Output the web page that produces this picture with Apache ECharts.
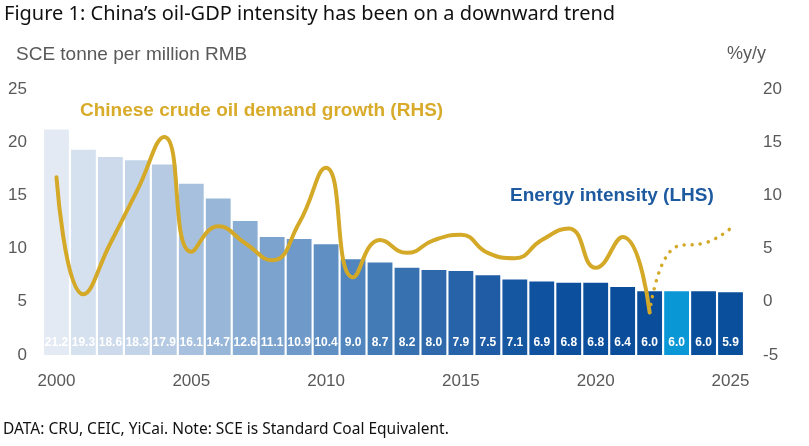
<!DOCTYPE html>
<html>
<head>
<meta charset="UTF-8">
<script src="https://cdn.jsdelivr.net/npm/echarts@6/dist/echarts.min.js"></script>
<style>
  html, body { margin: 0; padding: 0; background: #fff; }
  #chart { width: 809px; height: 446px; }
</style>
</head>
<body>
<div id="chart"></div>
<script>
// data
var years = ['2000','2001','2002','2003','2004','2005','2006','2007','2008','2009',
             '2010','2011','2012','2013','2014','2015','2016','2017','2018','2019',
             '2020','2021','2022','2023','2024','2025'];
var intensity = [21.2, 19.3, 18.6, 18.3, 17.9, 16.1, 14.7, 12.6, 11.1, 10.9,
                 10.4, 9.0, 8.7, 8.2, 8.0, 7.9, 7.5, 7.1, 6.9, 6.8,
                 6.8, 6.4, 6.0, 6.0, 6.0, 5.9];
// crude oil demand growth, actual (to 2022) and forecast (2022 on)
var oilActual = [11.7, 0.7, 5.5, 10.5, 15.5, 4.7, 7.1, 5.5, 3.9, 7.4,
                 12.6, 2.3, 5.8, 4.6, 5.8, 6.3, 4.6, 4.1, 5.8, 6.9,
                 3.2, 6.1, -1.0, null, null, null];
var oilForecast = [null, null, null, null, null, null, null, null, null, null,
                   null, null, null, null, null, null, null, null, null, null,
                   null, null, -1.0, 5.2, 5.5, 6.9];
var leftTicks = [0, 25, 5];
var rightTicks = [-5, 20, 5];

// bar shades, light to dark, 2023 highlighted
var barColors = ['#e3eaf4','#d6e1ef','#cddaeb','#c3d4e8','#b6cbe3','#a6c0dd','#98b6d8',
                 '#8aadd3','#7ba3cd','#6e99c8','#6090c3','#5086bd','#437bb6','#3871b0',
                 '#2f69ab','#2763a8','#1f5ca5','#1657a2','#0f529f','#0c509d','#0b4f9c',
                 '#0a4e9b','#0a4d9b','#0a97d6','#0a4f9c','#0a4f9c'];

var chart = echarts.init(document.getElementById('chart'));
var gray = '#595959';

var option = {
  animation: false,
  textStyle: { fontFamily: 'Liberation Sans, Arial, sans-serif' },
  grid: { left: 43, right: 65, top: 89, bottom: 91, outerBoundsMode: 'none' },
  graphic: [
    { type: 'text', left: 4, top: 4,
      style: { text: 'Figure 1: China\u2019s oil-GDP intensity has been on a downward trend',
               fontFamily: 'Noto Sans', fontSize: 20, fill: '#111' } },
    { type: 'text', left: 16, top: 45,
      style: { text: 'SCE tonne per million RMB', fontSize: 19, fill: gray,
               fontFamily: 'Liberation Sans' } },
    { type: 'text', left: 727, top: 45,
      style: { text: '%y/y', fontSize: 18, fill: gray, fontFamily: 'Liberation Sans' } },
    { type: 'text', left: 80, top: 101,
      style: { text: 'Chinese crude oil demand growth (RHS)', fontSize: 19, fontWeight: 'bold',
               fill: '#d8ab2b', fontFamily: 'Liberation Sans' } },
    { type: 'text', left: 510, top: 186,
      style: { text: 'Energy intensity (LHS)', fontSize: 19, fontWeight: 'bold',
               fill: '#1d5a9f', fontFamily: 'Liberation Sans' } },
    { type: 'text', left: 3, top: 422,
      style: { text: 'DATA: CRU, CEIC, YiCai. Note: SCE is Standard Coal Equivalent.',
               fontFamily: 'Noto Sans', fontSize: 15.5, fill: '#111' } }
  ],
  xAxis: {
    type: 'category',
    data: years,
    axisLine: { show: false },
    axisTick: { show: false },
    axisLabel: { interval: 4, color: gray, fontSize: 17, margin: 18 }
  },
  yAxis: [
    { type: 'value', min: leftTicks[0], max: leftTicks[1], interval: leftTicks[2],
      splitLine: { show: false }, axisLine: { show: false }, axisTick: { show: false },
      axisLabel: { color: gray, fontSize: 17, margin: 16 } },
    { type: 'value', min: rightTicks[0], max: rightTicks[1], interval: rightTicks[2],
      position: 'right',
      splitLine: { show: false }, axisLine: { show: false }, axisTick: { show: false },
      axisLabel: { color: gray, fontSize: 17, margin: 19 } }
  ],
  series: [
    { name: 'Energy intensity (LHS)', type: 'bar', yAxisIndex: 0,
      barCategoryGap: '8%',
      data: intensity.map(function (v, i) {
        return { value: v, itemStyle: { color: barColors[i] } };
      }),
      label: { show: true, position: 'insideBottom', distance: 6,
               color: '#fff', fontSize: 12, fontWeight: 'bold',
               formatter: function (p) { return p.value.toFixed(1); } } },
    { name: 'Chinese crude oil demand growth (RHS)', type: 'line', yAxisIndex: 1,
      data: oilActual, smooth: 0.5, symbol: 'none', z: 5,
      lineStyle: { color: '#d4a928', width: 4, cap: 'round' } },
    { name: 'Forecast', type: 'line', yAxisIndex: 1,
      data: oilForecast, smooth: 0.5, symbol: 'none', z: 5,
      lineStyle: { color: '#d4a928', width: 3.5, type: [0.1, 8], cap: 'round' } }
  ]
};

chart.setOption(option);
</script>
</body>
</html>
